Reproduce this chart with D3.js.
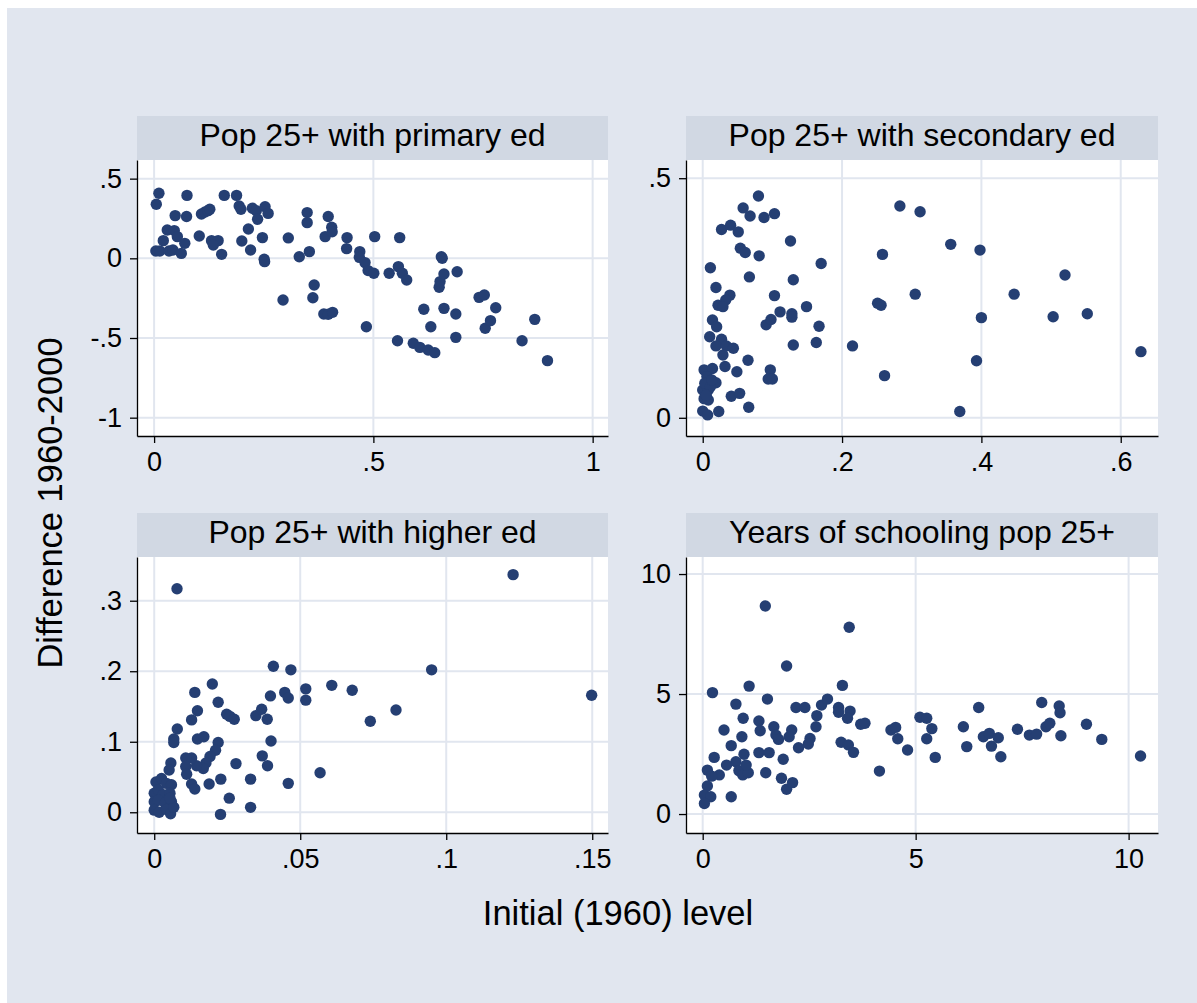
<!DOCTYPE html>
<html>
<head>
<meta charset="utf-8">
<script src="https://cdn.jsdelivr.net/npm/d3@7"></script>
<style>
  body { margin: 0; background: #fff; }
  svg { display: block; font-family: "Liberation Sans", Arial, Helvetica, sans-serif; }
  .tick-label { font-size: 27px; fill: #000; }
  .strip-text { font-size: 32px; fill: #000; }
  .axis-title { font-size: 34.5px; fill: #000; }
</style>
</head>
<body>
<svg id="chart" width="1197" height="1003"></svg>
<script>
// panel titles
const panelTitles = ["Pop 25+ with primary ed", "Pop 25+ with secondary ed",
    "Pop 25+ with higher ed", "Years of schooling pop 25+"];

// [initial level, difference] per country
const primaryPts = [[0.011,0.408],[0.005,0.339],[0.075,0.395],[0.160,0.395],[0.188,0.395],[0.048,0.268],
    [0.074,0.262],[0.108,0.278],[0.116,0.291],[0.123,0.299],[0.127,0.308],[0.194,0.328],[0.198,0.308],
    [0.224,0.314],[0.233,0.299],[0.253,0.324],[0.260,0.282],[0.236,0.245],[0.030,0.178],[0.046,0.174],
    [0.053,0.136],[0.021,0.111],[0.070,0.094],[0.004,0.046],[0.013,0.046],[0.034,0.046],[0.043,0.052],
    [0.062,0.031],[0.103,0.140],[0.131,0.111],[0.146,0.111],[0.135,0.084],[0.154,0.025],[0.200,0.109],
    [0.215,0.184],[0.247,0.130],[0.220,0.052],[0.251,-0.006],[0.252,-0.021],[0.294,-0.262],[0.306,0.128],
    [0.331,0.010],[0.349,0.287],[0.349,0.224],[0.354,0.042],[0.365,-0.167],[0.362,-0.247],[0.387,-0.349],
    [0.397,-0.351],[0.407,-0.339],[0.390,0.136],[0.397,0.262],[0.405,0.195],[0.406,0.167],[0.440,0.130],
    [0.439,0.061],[0.469,0.042],[0.468,0.006],[0.481,-0.027],[0.488,-0.077],[0.501,-0.094],[0.503,0.136],
    [0.484,-0.429],[0.536,-0.094],[0.560,0.130],[0.557,-0.052],[0.566,-0.094],[0.576,-0.136],[0.555,-0.517],
    [0.591,-0.533],[0.606,-0.559],[0.625,-0.575],[0.640,-0.592],[0.615,-0.320],[0.631,-0.429],[0.650,-0.182],
    [0.652,-0.146],[0.661,-0.098],[0.655,0.010],[0.657,0.000],[0.661,-0.314],[0.691,-0.084],[0.688,-0.349],
    [0.688,-0.496],[0.741,-0.245],[0.753,-0.230],[0.755,-0.439],[0.767,-0.391],[0.779,-0.310],[0.839,-0.517],
    [0.868,-0.383],[0.897,-0.642]];

const secondaryPts = [[0.080,0.463],[0.058,0.438],[0.068,0.421],[0.088,0.418],[0.103,0.426],[0.027,0.393],
    [0.040,0.402],[0.051,0.388],[0.054,0.354],[0.061,0.345],[0.081,0.338],[0.126,0.369],[0.170,0.322],
    [0.011,0.313],[0.067,0.294],[0.019,0.272],[0.130,0.288],[0.039,0.256],[0.033,0.246],[0.022,0.235],
    [0.029,0.232],[0.103,0.255],[0.111,0.221],[0.128,0.217],[0.128,0.210],[0.149,0.232],[0.014,0.204],
    [0.020,0.190],[0.091,0.194],[0.098,0.205],[0.167,0.191],[0.010,0.169],[0.027,0.164],[0.019,0.150],
    [0.034,0.150],[0.044,0.145],[0.029,0.131],[0.032,0.107],[0.065,0.120],[0.130,0.152],[0.163,0.157],
    [0.215,0.150],[0.002,0.100],[0.014,0.103],[0.006,0.086],[0.019,0.073],[0.049,0.096],[0.097,0.100],
    [0.094,0.081],[0.100,0.081],[0.000,0.058],[0.008,0.058],[0.002,0.040],[0.008,0.037],[0.041,0.045],
    [0.053,0.051],[0.066,0.022],[0.000,0.014],[0.007,0.006],[0.023,0.013],[0.003,0.072],[0.011,0.065],
    [0.005,0.047],[0.013,0.079],[0.283,0.442],[0.312,0.430],[0.356,0.362],[0.398,0.350],[0.258,0.341],
    [0.520,0.298],[0.305,0.258],[0.447,0.258],[0.251,0.239],[0.256,0.235],[0.400,0.209],[0.503,0.211],
    [0.552,0.217],[0.629,0.138],[0.393,0.119],[0.261,0.088],[0.369,0.013]];

const higherPts = [[0.0078,0.317],[0.1229,0.337],[0.0408,0.207],[0.0468,0.202],[0.0950,0.202],[0.0199,0.182],
    [0.0139,0.170],[0.0219,0.156],[0.0148,0.144],[0.0128,0.131],[0.0248,0.139],[0.0259,0.136],[0.0274,0.132],
    [0.0348,0.137],[0.0368,0.146],[0.0387,0.132],[0.0398,0.165],[0.0447,0.170],[0.0459,0.162],[0.0519,0.175],
    [0.0519,0.159],[0.0608,0.180],[0.0678,0.173],[0.0828,0.145],[0.0740,0.129],[0.1498,0.166],[0.0079,0.118],
    [0.0067,0.104],[0.0067,0.099],[0.0148,0.104],[0.0170,0.107],[0.0219,0.099],[0.0210,0.088],[0.0191,0.079],
    [0.0177,0.070],[0.0168,0.062],[0.0145,0.066],[0.0128,0.077],[0.0108,0.077],[0.0108,0.065],[0.0111,0.054],
    [0.0400,0.101],[0.0370,0.080],[0.0388,0.066],[0.0280,0.069],[0.0057,0.070],[0.0051,0.060],[0.0128,0.040],
    [0.0139,0.033],[0.0188,0.040],[0.0228,0.047],[0.0330,0.047],[0.0459,0.041],[0.0568,0.056],[0.0257,0.020],
    [0.0330,0.007],[0.0227,-0.003],[0.0006,0.043],[0.0025,0.048],[0.0042,0.041],[0.0059,0.039],[0.0000,0.027],
    [0.0014,0.032],[0.0031,0.025],[0.0054,0.027],[0.0000,0.015],[0.0014,0.017],[0.0037,0.013],[0.0059,0.015],
    [0.0000,0.003],[0.0017,0.000],[0.0042,0.004],[0.0056,-0.002],[0.0067,0.007],[0.0054,0.020]];

const yearsPts = [[1.47,8.67],[3.44,7.78],[1.97,6.17],[0.23,5.06],[1.09,5.33],[3.28,5.36],[0.78,4.58],
    [1.52,4.79],[2.19,4.44],[2.40,4.44],[2.79,4.54],[2.93,4.79],[2.68,4.10],[3.19,4.44],[3.19,4.24],
    [3.46,4.29],[3.40,3.99],[3.71,3.74],[3.81,3.78],[0.95,3.99],[1.32,3.88],[1.35,3.47],[0.50,3.50],
    [0.92,3.22],[1.67,3.64],[1.72,3.29],[1.78,3.11],[2.09,3.50],[2.03,3.22],[2.66,3.64],[2.52,3.15],
    [2.48,2.92],[2.25,2.76],[3.25,2.99],[3.42,2.88],[3.54,2.57],[0.67,2.85],[1.32,2.56],[1.56,2.56],
    [0.97,2.49],[0.27,2.36],[1.89,2.28],[0.11,1.83],[0.78,2.18],[0.56,2.04],[0.39,1.63],[0.21,1.58],
    [0.85,1.81],[0.94,1.63],[1.07,1.72],[1.02,2.04],[1.48,1.72],[1.85,1.49],[1.97,1.03],[2.11,1.31],
    [0.11,1.17],[0.04,0.79],[0.19,0.72],[0.04,0.44],[0.67,0.72],[4.15,1.79],[4.42,3.50],[4.53,3.61],
    [4.58,3.14],[4.81,2.67],[5.10,4.03],[5.26,3.99],[5.38,3.56],[5.26,3.14],[5.46,2.36],[6.12,3.64],
    [6.20,2.81],[6.48,4.44],[6.59,3.22],[6.73,3.36],[6.78,2.83],[6.94,3.18],[7.00,2.39],[7.39,3.53],
    [7.67,3.29],[7.84,3.33],[7.96,4.65],[8.06,3.64],[8.15,3.78],[8.37,4.50],[8.39,4.22],[8.41,3.26],
    [9.01,3.74],[9.37,3.11],[10.28,2.42]];

// ticks and their labels
const xTicks = [[0, 0.5, 1], [0, 0.2, 0.4, 0.6], [0, 0.05, 0.1, 0.15], [0, 5, 10]];
const xTickLabels = [["0", ".5", "1"], ["0", ".2", ".4", ".6"], ["0", ".05", ".1", ".15"], ["0", "5", "10"]];
const yTicks = [[-1, -0.5, 0, 0.5], [0, 0.5], [0, 0.1, 0.2, 0.3], [0, 5, 10]];
const yTickLabels = [["-1", "-.5", "0", ".5"], ["0", ".5"], ["0", ".1", ".2", ".3"], ["0", "5", "10"]];

const xTitle = "Initial (1960) level";
const yTitle = "Difference 1960-2000";

// axis ranges of each panel
const xRanges = [[-0.039, 1.035], [-0.024, 0.6535], [-0.0059, 0.1554], [-0.392, 10.69]];
const yRanges = [[-1.115, 0.617], [-0.038, 0.538], [-0.0294, 0.362], [-0.79, 10.71]];

const panelData = [primaryPts, secondaryPts, higherPts, yearsPts];

const colLeft = [137, 686], colRight = [608, 1158];
const rowTop = [160, 557], rowBottom = [436, 833];
const stripH = 44;

const bg = "#e1e6ef", strip = "#d1d8e3", grid = "#e1e6ef", marker = "#253f73";

const svg = d3.select("#chart");

svg.append("rect")
    .attr("x", 7).attr("y", 8)
    .attr("width", 1197 - 7).attr("height", 1003 - 8)
    .attr("fill", bg);

panelData.forEach((pts, i) => {
    const c = i % 2, r = Math.floor(i / 2);
    const left = colLeft[c], right = colRight[c], top = rowTop[r], bottom = rowBottom[r];

    const x = d3.scaleLinear().domain(xRanges[i]).range([left, right]);
    const y = d3.scaleLinear().domain(yRanges[i]).range([bottom, top]);

    const g = svg.append("g");

    // title strip
    g.append("rect")
        .attr("x", left).attr("y", top - stripH)
        .attr("width", right - left).attr("height", stripH)
        .attr("fill", strip);
    g.append("text")
        .attr("class", "strip-text")
        .attr("x", (left + right) / 2)
        .attr("y", top - stripH + 30)
        .attr("text-anchor", "middle")
        .text(panelTitles[i]);

    // plot area
    g.append("rect")
        .attr("x", left).attr("y", top)
        .attr("width", right - left).attr("height", bottom - top)
        .attr("fill", "#fff");

    // grid
    g.append("g").selectAll("line")
        .data(yTicks[i]).enter()
        .append("line")
        .attr("x1", left).attr("x2", right)
        .attr("y1", (d) => y(d)).attr("y2", (d) => y(d))
        .attr("stroke", grid).attr("stroke-width", 2);
    g.append("g").selectAll("line")
        .data(xTicks[i]).enter()
        .append("line")
        .attr("x1", (d) => x(d)).attr("x2", (d) => x(d))
        .attr("y1", top).attr("y2", bottom)
        .attr("stroke", grid).attr("stroke-width", 2);

    // points
    g.append("g").selectAll("circle")
        .data(pts).enter()
        .append("circle")
        .attr("cx", (d) => x(d[0]))
        .attr("cy", (d) => y(d[1]))
        .attr("r", 5.7)
        .attr("fill", marker);

    // axes
    const xAxis = d3.axisBottom(x)
        .tickValues(xTicks[i])
        .tickSize(7)
        .tickPadding(9)
        .tickSizeOuter(0)
        .tickFormat((d, k) => xTickLabels[i][k]);
    const ya = d3.axisLeft(y)
        .tickValues(yTicks[i])
        .tickSize(7)
        .tickPadding(8)
        .tickSizeOuter(0)
        .tickFormat((d, k) => yTickLabels[i][k]);

    const gx = g.append("g")
        .attr("transform", "translate(0," + bottom + ")")
        .call(xAxis);
    const gy = g.append("g")
        .attr("transform", "translate(" + left + ",0)")
        .call(ya);

    [gx, gy].forEach((a) => {
        a.select(".domain").attr("stroke", "#000").attr("stroke-width", 1.3);
        a.selectAll(".tick line").attr("stroke", "#000").attr("stroke-width", 1.3);
        a.selectAll(".tick text")
            .attr("class", "tick-label")
            .attr("font-family", null).attr("font-size", null);
    });
    gx.attr("font-family", null).attr("font-size", null);
    gy.attr("font-family", null).attr("font-size", null);
});

// axis titles
svg.append("text")
    .attr("class", "axis-title")
    .attr("x", 618).attr("y", 925)
    .attr("text-anchor", "middle")
    .text(xTitle);

svg.append("text")
    .attr("class", "axis-title")
    .attr("transform", "translate(62,503) rotate(-90)")
    .attr("text-anchor", "middle")
    .text(yTitle);
</script>
</body>
</html>
